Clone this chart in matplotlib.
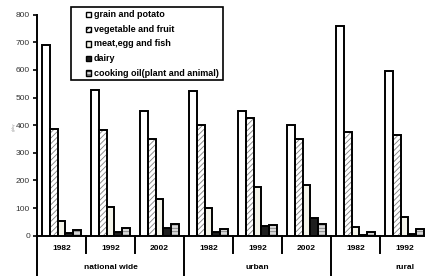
import matplotlib.pyplot as plt
import numpy as np
from matplotlib.patches import Rectangle

plt.rcParams['font.family'] = ['Liberation Sans', 'DejaVu Sans']
plt.rcParams['hatch.linewidth'] = 0.6

# 資料
years = ['1982', '1992', '2002', '1982', '1992', '2002', '1982', '1992']
groups = ['national wide', 'urban', 'rural']
series_names = ['grain and potato', 'vegetable and fruit', 'meat,egg and fish',
                'dairy', 'cooking oil(plant and animal)']
grain = [690, 527, 452, 525, 450, 400, 760, 595]
vegetable = [385, 383, 350, 400, 425, 350, 375, 363]
meat = [55, 105, 132, 100, 175, 183, 33, 66]
dairy = [8, 14, 27, 12, 35, 65, 4, 5]
oil = [20, 28, 42, 25, 37, 42, 15, 25]

# 樣式
styles = [
    dict(color='white', hatch=None),
    dict(color='white', hatch='//////'),
    dict(color='#f4f4ea', hatch=None),
    dict(color='#1e1e1e', hatch=None),
    dict(color='#d8d8d8', hatch='-----'),
]

W, H = 425, 276
fig = plt.figure(figsize=(W / 100, H / 100), dpi=100)
ax = fig.add_axes([37 / W, (H - 235.7) / H, 441 / W, 221 / H])

x = np.arange(len(years))
bw = 0.16
for k, vals in enumerate([grain, vegetable, meat, dairy, oil]):
    st = styles[k]
    xs = x + (k - 2) * bw
    if st['hatch']:
        ax.bar(xs, vals, bw, color=st['color'], edgecolor='#808080',
               hatch=st['hatch'], linewidth=0, zorder=2)
        ax.bar(xs, vals, bw, fill=False, edgecolor='black', linewidth=1.4, zorder=3)
    else:
        ax.bar(xs, vals, bw, color=st['color'], edgecolor='black',
               linewidth=1.4, zorder=3)

ax.set_xlim(-0.5, 8.5)
ax.set_ylim(0, 800)
ax.set_yticks(range(0, 801, 100))
ax.tick_params(axis='y', labelsize=6, labelcolor='#333333', length=3, width=1.2,
               direction='out', pad=2)
ax.set_xticks([])
for s in ['top', 'right']:
    ax.spines[s].set_visible(False)
ax.spines['left'].set_linewidth(1.4)
ax.spines['bottom'].set_linewidth(1.4)

# x軸分隔線與標籤
tr = ax.get_xaxis_transform()
for i in range(1, 9):
    bottom = -0.19 if i % 3 == 0 else -0.078
    ax.plot([i - 0.5, i - 0.5], [0, bottom], transform=tr, color='black',
            lw=1.4, clip_on=False)
ax.plot([-0.5, -0.5], [0, -0.19], transform=tr, color='black', lw=1.4, clip_on=False)
for i, yr in enumerate(years):
    ax.text(i, -0.056, yr, transform=tr, ha='center', va='center',
            fontsize=6, fontweight='bold')
for j, g in enumerate(groups):
    ax.text(3 * j + 1, -0.146, g, transform=tr, ha='center', va='center',
            fontsize=6, fontweight='bold')

# 縱軸單位
fig.text(14 / W, 1 - 127 / H, 'g/day', rotation=90, fontsize=2.5,
         color='#999999', ha='center', va='center')

# 圖例 (以像素座標手動繪製)
def px(xp, yp):
    return xp / W, 1 - yp / H

fig.patches.append(Rectangle(px(71, 80), 152 / W, 73 / H, transform=fig.transFigure,
                             facecolor='white', edgecolor='black', lw=1.2, zorder=5))
for k, name in enumerate(series_names):
    yc = 14.7 + k * 14.6
    st = styles[k]
    fig.patches.append(Rectangle(px(86, yc + 2.7), 5.4 / W, 5.4 / H,
                                 transform=fig.transFigure, facecolor=st['color'],
                                 edgecolor='black', hatch=st['hatch'], lw=1.0, zorder=6))
    fig.text(*px(94, yc), name, fontsize=6.5, fontweight='bold',
             ha='left', va='center', zorder=6)

fig.savefig('out.png', dpi=100)
